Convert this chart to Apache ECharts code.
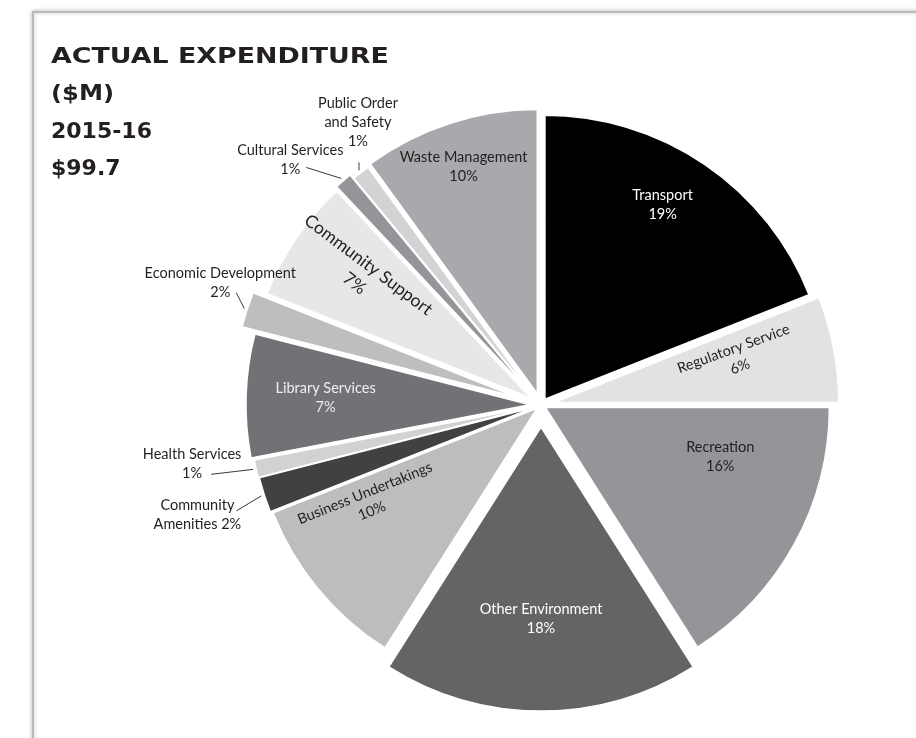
<!DOCTYPE html>
<html>
<head>
<meta charset="utf-8">
<script src="https://cdn.jsdelivr.net/npm/echarts@6/dist/echarts.min.js"></script>
<style>
  html, body { margin: 0; padding: 0; background: #fff; }
  #chart { width: 916px; height: 738px; }
</style>
</head>
<body>
<div id="chart"></div>
<script>
// Expenditure categories, clockwise from 12 o'clock
const categories = [
  'Transport', 'Regulatory Service', 'Recreation', 'Other Environment',
  'Business Undertakings', 'Community Amenities', 'Health Services',
  'Library Services', 'Economic Development', 'Community Support',
  'Cultural Services', 'Public Order and Safety', 'Waste Management'
];
// Share of total expenditure (%)
const shares = [19, 6, 16, 18, 10, 2, 1, 7, 2, 7, 1, 1, 10];
// Heading block
const titleLines = ['ACTUAL EXPENDITURE', '($M)', '2015-16', '$99.7'];

// ---- styling ----
const FONT = 'Lato, "Open Sans", sans-serif';
const TITLE_FONT = '"DejaVu Sans", Lato, sans-serif';
const DARK = '#231f20';
const titleStretch = [1.22, 1.1, 1.0, 1.0];
const sliceColors = [
  '#000000', '#e1e2e3', '#939598', '#636466', '#bbbdbf', '#414042', '#d1d2d4',
  '#717275', '#bcbec0', '#e6e7e8', '#939598', '#d1d3d4', '#a7a9ac'
];
const labelColors = [
  '#ffffff', DARK, DARK, '#ffffff', DARK, DARK, DARK,
  '#eeeeee', DARK, DARK, DARK, DARK, DARK
];
const labelSizes = [14.5, 14.5, 14.5, 14.5, 14.5, 14.5, 14.5, 14.5, 14.5, 17.5, 14.5, 14.5, 14.5];
// how far each slice is pulled out from the centre (px)
const explode = [7, 14, 5, 22, 5, 7, 8, 11, 25, 12, 15, 10, 12];
// inside labels: [radius fraction, angle tweak (deg), text rotation (deg)]
const insideLabel = [
  [0.80, -3, 0], [0.66, -3, 20], [0.64, -13, 0], [0.675, 0, 0], [0.68, 10.5, 22],
  null, null, [0.72, 0, 0], null, [0.74, 2, -37], null, null, [0.84, 0, 0]
];
// callout labels: [leader end dx, dy, label centre dx, dy] from the slice rim
const callout = {
  5: [-25, 15, -64, 19],
  6: [-42, 5, -61, -6],
  8: [-8, -16, -24, -26],
  10: [-35, -11, -51, -19],
  11: [0, -8, -1, -48]
};
const labelText = {
  'Community Amenities': v => 'Community\nAmenities ' + v + '%',
  'Public Order and Safety': v => 'Public Order\nand Safety\n' + v + '%'
};

const CX = 541, CY = 405, R = 284;

// mid angle of every slice, clockwise from the top (radians)
const total = shares.reduce((a, b) => a + b, 0);
const mids = [];
let acc = 0;
shares.forEach(v => { mids.push((acc + v / 2) / total * 2 * Math.PI); acc += v; });

function sliceCenter(i) {
  return [CX + explode[i] * Math.sin(mids[i]), CY - explode[i] * Math.cos(mids[i])];
}

function makeSeries(i) {
  const c = sliceCenter(i);
  const inside = insideLabel[i];
  return {
    type: 'pie',
    center: c,
    radius: R,
    startAngle: 90,
    clockwise: true,
    animation: false,
    silent: true,
    avoidLabelOverlap: false,
    data: categories.map((name, j) => ({
      name: name,
      value: shares[j],
      itemStyle: j === i
        ? { color: sliceColors[j], borderColor: '#ffffff', borderWidth: 1.5 }
        : { color: 'rgba(0,0,0,0)', borderWidth: 0 },
      label: { show: j === i },
      labelLine: { show: j === i && !inside }
    })),
    label: {
      position: inside ? 'inside' : 'outside',
      formatter: p => labelText[p.name] ? labelText[p.name](p.value) : p.name + '\n' + p.value + '%',
      color: labelColors[i],
      fontFamily: FONT,
      fontSize: labelSizes[i],
      lineHeight: Math.round(labelSizes[i] * 1.3),
      align: 'center'
    },
    labelLine: { lineStyle: { color: DARK, width: 0.9 }, length: 10, length2: 10 },
    labelLayout: p => {
      if (p.dataIndex !== i) return {};
      if (inside) {
        const ang = mids[i] + inside[1] * Math.PI / 180;
        const r = inside[0] * R;
        return {
          x: c[0] + r * Math.sin(ang),
          y: c[1] - r * Math.cos(ang),
          align: 'center',
          verticalAlign: 'middle',
          rotate: inside[2]
        };
      }
      const k = callout[i];
      const ax = c[0] + (R + 3) * Math.sin(mids[i]);
      const ay = c[1] - (R + 3) * Math.cos(mids[i]);
      const ex = ax + k[0], ey = ay + k[1];
      return {
        x: ax + k[2],
        y: ay + k[3],
        align: 'center',
        verticalAlign: 'middle',
        rotate: 0,
        labelLinePoints: [[ax, ay], [(ax + ex) / 2, (ay + ey) / 2], [ex, ey]]
      };
    }
  };
}

// heading lines, each drawn as its own text element
const headingText = titleLines.map((t, k) => ({
  type: 'text',
  silent: true,
  x: 51,
  y: 46 + 37.5 * k,
  scaleX: titleStretch[k],
  style: {
    text: t,
    fill: DARK,
    fontFamily: TITLE_FONT,
    fontWeight: 'bold',
    fontSize: 22,
    align: 'left',
    verticalAlign: 'top'
  }
}));

const chart = echarts.init(document.getElementById('chart'), null, { renderer: 'canvas' });
chart.setOption({
  backgroundColor: '#ffffff',
  animation: false,
  graphic: [{
    type: 'rect',
    z: -10,
    silent: true,
    shape: { x: 33, y: 12, width: 920, height: 760 },
    style: {
      fill: '#ffffff',
      stroke: '#b9b9b9',
      lineWidth: 2,
      shadowBlur: 4,
      shadowColor: 'rgba(0,0,0,0.25)'
    }
  }].concat(headingText),
  series: categories.map((_, i) => makeSeries(i))
});
</script>
</body>
</html>
